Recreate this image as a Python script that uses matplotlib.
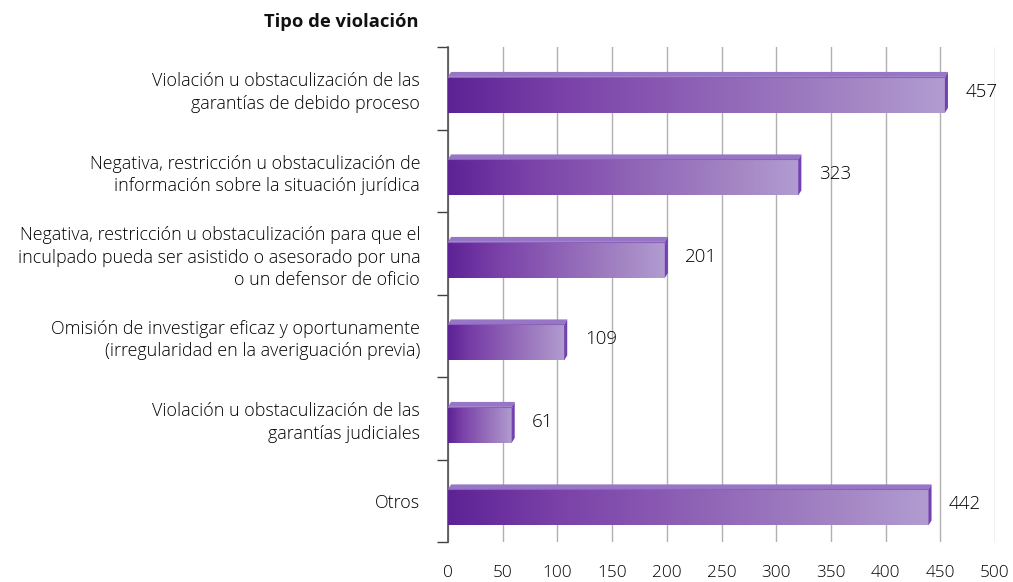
import numpy as np
import matplotlib
matplotlib.use("Agg")
import matplotlib.pyplot as plt
from matplotlib.patches import Polygon, Rectangle
from matplotlib.colors import LinearSegmentedColormap

categories = [
    "Violación u obstaculización de las\ngarantías de debido proceso",
    "Negativa, restricción u obstaculización de\ninformación sobre la situación jurídica",
    "Negativa, restricción u obstaculización para que el\ninculpado pueda ser asistido o asesorado por una\no un defensor de oficio",
    "Omisión de investigar eficaz y oportunamente\n(irregularidad en la averiguación previa)",
    "Violación u obstaculización de las\ngarantías judiciales",
    "Otros",
]
values = [457, 323, 201, 109, 61, 442]
xticks = [0, 50, 100, 150, 200, 250, 300, 350, 400, 450, 500]
title = "Tipo de violación"

plt.rcParams['font.family'] = ['Open Sans', 'DejaVu Sans']

fig = plt.figure(figsize=(10.13, 5.82), dpi=100)
ax = fig.add_axes([448/1013, 1-542/582, 547/1013, 495/582])

n = len(categories)
ys = np.arange(n)
ax.set_xlim(0, 500)
ax.set_ylim(n - 0.5, -0.5)

cmap = LinearSegmentedColormap.from_list(
    "g", [(0.0, "#5d2295"), (0.22, "#7a40a8"), (0.82, "#a486c4"), (1.0, "#b19cd1")])
grad = np.linspace(0, 1, 256).reshape(1, -1)

h = 0.436
off = 0.08
dx = 2.8   # depth in x data units
dy = 0.06  # depth in y data units

for y, v in zip(ys, values):
    front_w = v - dx
    top = y - h / 2 + off
    bot = y + h / 2 + off
    rect = Rectangle((0, top), front_w, bot - top, facecolor="none", edgecolor="none")
    ax.add_patch(rect)
    im = ax.imshow(grad, cmap=cmap, aspect="auto", extent=[0, front_w, bot, top],
                   zorder=3, interpolation="bicubic")
    im.set_clip_path(rect)
    topface = Polygon([(0, top), (dx, top - dy), (front_w + dx, top - dy), (front_w, top)],
                      closed=True, facecolor="#9876c6", edgecolor="none", zorder=3)
    ax.add_patch(topface)
    ax.plot([0, front_w], [top, top], color="#8a62bb", linewidth=0.8, zorder=3.5)
    side = Polygon([(front_w, top), (front_w + dx, top - dy), (front_w + dx, bot - dy), (front_w, bot)],
                   closed=True, facecolor="#7442b0", edgecolor="none", zorder=3)
    ax.add_patch(side)
    ax.text(v + 16, y + 0.04, str(v), va="center", ha="left", fontsize=13.5,
            color="#000000", zorder=4, fontweight="light")

ax.set_xticks(xticks)
ax.set_xticklabels([str(t) for t in xticks], fontsize=12.3, color="#000000", fontweight="light")
ax.tick_params(axis="x", length=0, pad=16.5)
ax.xaxis.grid(True, color="#b0b0b0", linewidth=1)
ax.set_axisbelow(True)

ax.set_yticks(ys)
ax.set_yticklabels(categories, fontsize=12.9, color="#000000", linespacing=1.33, fontweight="light")
ax.tick_params(axis="y", which="major", length=0, pad=20)
ax.set_yticks(np.arange(n + 1) - 0.5, minor=True)
ax.tick_params(axis="y", which="minor", length=8, width=1, color="#404040")

for s in ["top", "right", "bottom"]:
    ax.spines[s].set_visible(False)
ax.spines["left"].set_color("#505050")
ax.spines["left"].set_linewidth(1.2)

fig.text(418/1013, 1-22/582, title, ha="right", va="center", fontsize=13.2, fontweight="bold", color="#111111")

fig.savefig("out.png", dpi=100)
